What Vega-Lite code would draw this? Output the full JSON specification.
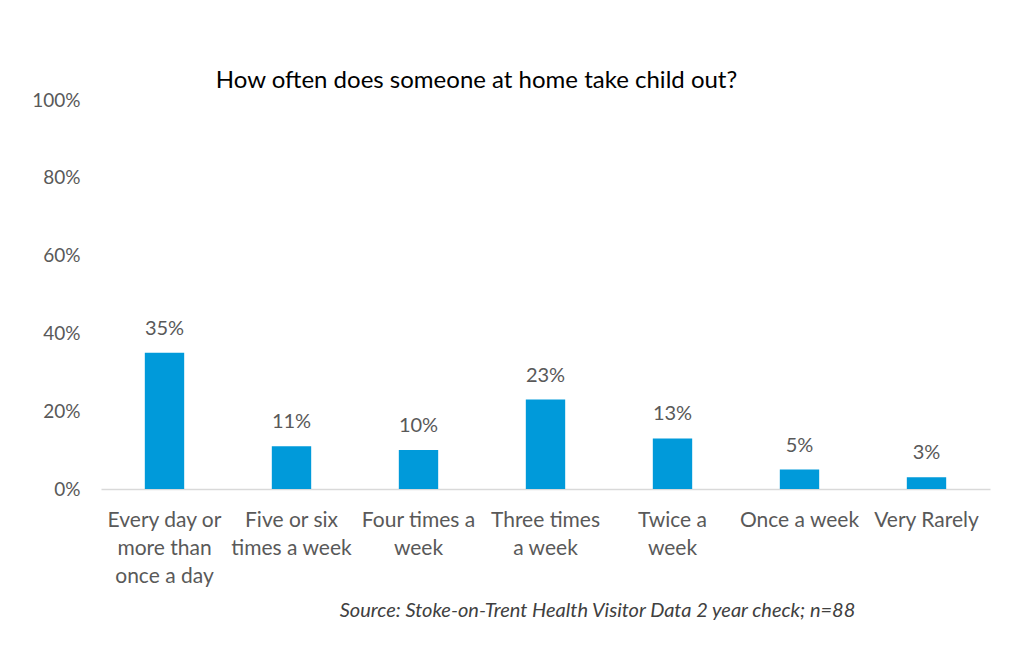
{
  "$schema": "https://vega.github.io/schema/vega-lite/v6.json",
  "width": 889,
  "height": 389,
  "autosize": {"type": "none"},
  "padding": {"left": 101, "top": 100, "right": 19, "bottom": 161},
  "background": "white",
  "config": {
    "view": {"stroke": null},
    "font": "Lato"
  },
  "title": {
    "text": "How often does someone at home take child out?",
    "font": "Lato",
    "fontSize": 24,
    "fontWeight": "normal",
    "color": "#000000",
    "anchor": "middle",
    "dx": -69,
    "dy": 33,
    "baseline": "alphabetic",
    "offset": 12
  },
  "data": {
    "values": [
      {"category": "Every day or more than once a day", "value": 0.35},
      {"category": "Five or six times a week", "value": 0.11},
      {"category": "Four times a week", "value": 0.10},
      {"category": "Three times a week", "value": 0.23},
      {"category": "Twice a week", "value": 0.13},
      {"category": "Once a week", "value": 0.05},
      {"category": "Very Rarely", "value": 0.03}
    ]
  },
  "encoding": {
    "x": {
      "field": "category",
      "type": "nominal",
      "sort": null,
      "scale": {"paddingInner": 0.69, "paddingOuter": 0.345},
      "axis": {
        "title": "Source: Stoke-on-Trent Health Visitor Data 2 year check; n=88",
        "titleFont": "Lato",
        "titleFontSize": 20,
        "titleFontStyle": "italic",
        "titleFontWeight": "normal",
        "titleColor": "#404040",
        "titleX": 496,
        "titleY": 121,
        "titleAlign": "center",
        "titleBaseline": "middle",
        "labelAngle": 0,
        "labelFont": "Lato",
        "labelFontSize": 21,
        "labelColor": "#595959",
        "labelLineHeight": 28,
        "labelPadding": 20,
        "labelBaseline": "top",
        "labelLimit": 300,
        "ticks": false,
        "domainColor": "#d9d9d9",
        "domainWidth": 1.5,
        "labelExpr": "datum.label == 'Every day or more than once a day' ? ['Every day or', 'more than', 'once a day'] : datum.label == 'Five or six times a week' ? ['Five or six', 'times a week'] : datum.label == 'Four times a week' ? ['Four times a', 'week'] : datum.label == 'Three times a week' ? ['Three times', 'a week'] : datum.label == 'Twice a week' ? ['Twice a', 'week'] : datum.label"
      }
    },
    "y": {
      "field": "value",
      "type": "quantitative",
      "scale": {"domain": [0, 1]},
      "axis": {
        "title": null,
        "values": [0, 0.2, 0.4, 0.6, 0.8, 1],
        "format": ".0%",
        "grid": false,
        "domain": false,
        "ticks": false,
        "labelFont": "Lato",
        "labelFontSize": 19,
        "labelColor": "#595959",
        "labelPadding": 21
      }
    }
  },
  "layer": [
    {"mark": {"type": "bar", "color": "#009ADA"}},
    {
      "mark": {"type": "text", "baseline": "bottom", "dy": -14, "fontSize": 20, "color": "#595959", "font": "Lato"},
      "encoding": {"text": {"field": "value", "type": "quantitative", "format": ".0%"}}
    }
  ]
}
